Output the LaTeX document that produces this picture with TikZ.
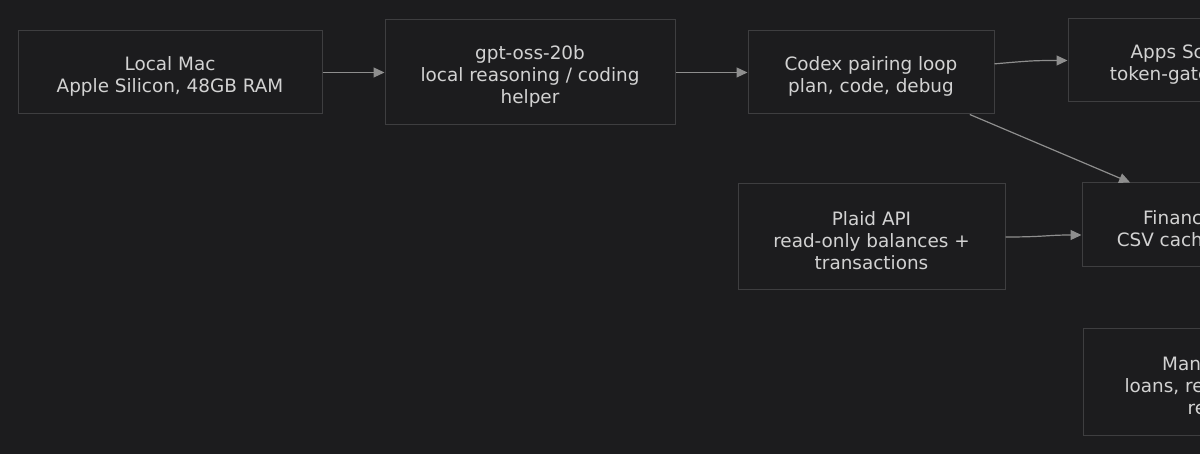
\documentclass[tikz,border=0pt]{standalone}
\usepackage{fontspec}
\setmainfont{DejaVu Sans}
\usetikzlibrary{arrows.meta}
\definecolor{bg}{HTML}{1C1C1E}
\definecolor{boxline}{HTML}{3E3E40}
\definecolor{edgec}{HTML}{8E8E8E}
\definecolor{txt}{HTML}{D2D2D2}
\newcommand{\topstrut}{\rule{0pt}{22pt}}
\begin{document}
\begin{tikzpicture}[x=1pt,y=-1pt,>={Triangle[length=11pt,width=10pt]},
  box/.style={draw=boxline,fill=bg,text=txt,align=center,inner sep=0pt,line width=1pt,
    font=\fontsize{18.4}{22}\selectfont},
  link/.style={->,draw=edgec,line width=1.2pt}]
  \useasboundingbox (0,0) rectangle (1200,454);
  \clip (0,0) rectangle (1200,454);
  \fill[bg] (0,0) rectangle (1200,454);
  \node[box,minimum width=304pt,minimum height=83pt] (mac) at (170,72.5) {\topstrut Local Mac\\Apple Silicon, 48GB RAM};
  \node[box,minimum width=290pt,minimum height=105pt] (gpt) at (530,72.5) {\topstrut gpt-oss-20b\\local reasoning / coding\\helper};
  \node[box,minimum width=246pt,minimum height=83pt] (codex) at (871,72.5) {\topstrut Codex pairing loop\\plan, code, debug};
  \node[box,minimum width=230pt,minimum height=83pt] (apps) at (1183,60.5) {\topstrut Apps Script\\token-gated API};
  \node[box,minimum width=267pt,minimum height=106pt] (plaid) at (871.5,237) {\topstrut Plaid API\\read-only balances +\\transactions};
  \node[box,minimum width=296pt,minimum height=84pt] (fin) at (1230,225) {\topstrut Finance dashboard\\CSV cache + summaries};
  \node[box,minimum width=288pt,minimum height=106pt] (manual) at (1227,382) {\topstrut Manual inputs\\loans, retirement, tax,\\reserves};
  \draw[link] (mac) -- (gpt);
  \draw[link] (gpt) -- (codex);
  \draw[link] (codex.4) .. controls +(35,-3) and +(-35,0) .. (apps.west);
  \draw[link] (codex) -- (fin);
  \draw[link] (plaid.east) .. controls +(40,0) and +(-35,0) .. ([yshift=-10pt]fin.west);
\end{tikzpicture}
\end{document}
